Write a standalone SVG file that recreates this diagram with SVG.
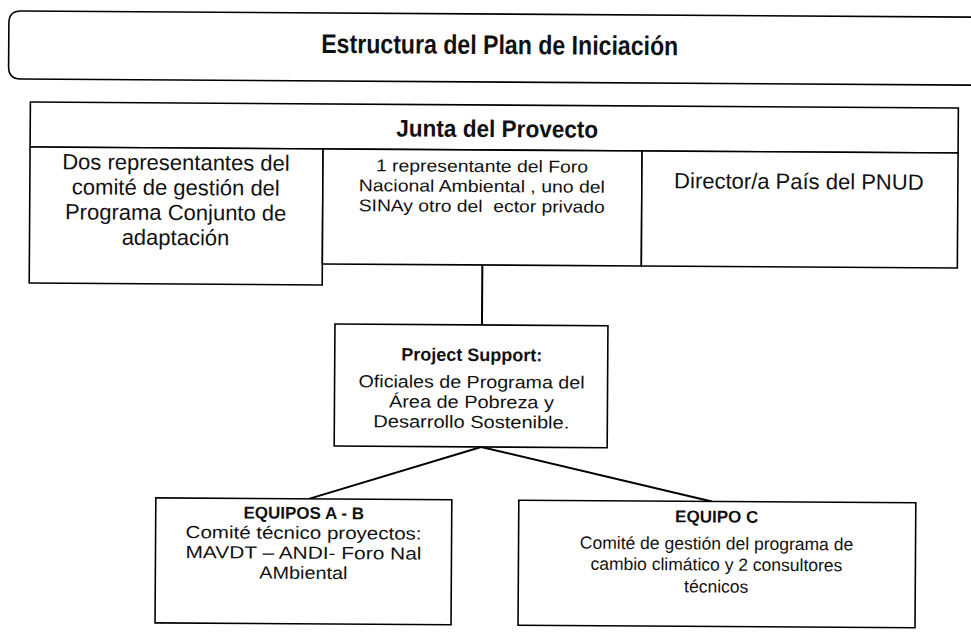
<svg xmlns="http://www.w3.org/2000/svg" width="971" height="637" viewBox="0 0 971 637">
<style>
  .box { fill: #ffffff; stroke: #000000; stroke-width: 1.6; }
  .ln { fill: none; stroke: #000000; stroke-width: 1.6; }
  .con { fill: none; stroke: #000000; stroke-width: 2; }
  .t { font-family: "Liberation Sans", Arial, sans-serif; fill: #111111; text-anchor: middle; }
  .b { font-weight: bold; }
</style>
<rect x="0" y="0" width="971" height="637" fill="#ffffff"/>
<g transform="rotate(0.37 485 318)">
  <g id="title">
    <path class="ln" d="M 985 14 L 19 14 Q 7 14 7 26 L 7 70 Q 7 82 19 82 L 985 82" stroke-width="2"/>
    <text class="t b" x="498" y="54" font-size="27" textLength="357" lengthAdjust="spacingAndGlyphs">Estructura del Plan de Iniciación</text>
  </g>
  <g id="junta">
    <rect class="box" x="29" y="105" width="928" height="45"/>
    <text class="t b" x="496" y="137" font-size="24" textLength="202" lengthAdjust="spacingAndGlyphs">Junta del Provecto</text>
  </g>
  <g id="cell-left">
    <rect class="box" x="29" y="150" width="293" height="136"/>
    <text class="t" x="175" y="172" font-size="22">Dos representantes del</text>
    <text class="t" x="175" y="197" font-size="22">comité de gestión del</text>
    <text class="t" x="175" y="222" font-size="22">Programa Conjunto de</text>
    <text class="t" x="175" y="247" font-size="22">adaptación</text>
  </g>
  <g id="cell-middle">
    <rect class="box" x="322" y="150" width="319" height="115"/>
    <text class="t" x="481" y="172" font-size="17" textLength="212" lengthAdjust="spacingAndGlyphs">1 representante del Foro</text>
    <text class="t" x="481" y="192" font-size="17" textLength="246" lengthAdjust="spacingAndGlyphs">Nacional Ambiental , uno del</text>
    <text class="t" x="481" y="212" font-size="17" textLength="246" lengthAdjust="spacingAndGlyphs" xml:space="preserve">SINAy otro del  ector privado</text>
  </g>
  <g id="cell-right">
    <rect class="box" x="641" y="150" width="316" height="115"/>
    <text class="t" x="798" y="187" font-size="22">Director/a País del PNUD</text>
  </g>
  <g id="connectors">
    <line class="con" x1="482" y1="265" x2="482" y2="325"/>
    <line class="con" x1="482" y1="447" x2="310" y2="500"/>
    <line class="con" x1="482" y1="447" x2="713" y2="500"/>
  </g>
  <g id="project-support">
    <rect class="box" x="335" y="325" width="273" height="122"/>
    <text class="t b" x="472" y="361" font-size="18">Project Support:</text>
    <text class="t" x="472" y="388" font-size="17.5" textLength="226" lengthAdjust="spacingAndGlyphs">Oficiales de Programa del</text>
    <text class="t" x="472" y="408" font-size="17.5" textLength="165" lengthAdjust="spacingAndGlyphs">Área de Pobreza y</text>
    <text class="t" x="472" y="428" font-size="17.5" textLength="196" lengthAdjust="spacingAndGlyphs">Desarrollo Sostenible.</text>
  </g>
  <g id="equipos-ab">
    <rect class="box" x="157" y="500" width="296" height="125"/>
    <text class="t b" x="305" y="520" font-size="17">EQUIPOS A - B</text>
    <text class="t" x="305" y="540" font-size="17.5" textLength="236" lengthAdjust="spacingAndGlyphs">Comité técnico proyectos:</text>
    <text class="t" x="305" y="560" font-size="17.5" textLength="236" lengthAdjust="spacingAndGlyphs">MAVDT – ANDI- Foro Nal</text>
    <text class="t" x="305" y="580" font-size="17.5" textLength="88" lengthAdjust="spacingAndGlyphs">AMbiental</text>
  </g>
  <g id="equipo-c">
    <rect class="box" x="520" y="500" width="397" height="125"/>
    <text class="t b" x="718" y="521" font-size="17">EQUIPO C</text>
    <text class="t" x="718" y="548" font-size="17.5">Comité de gestión del programa de</text>
    <text class="t" x="718" y="569" font-size="17.5">cambio climático y 2 consultores</text>
    <text class="t" x="718" y="591" font-size="17.5">técnicos</text>
  </g>
</g>
</svg>
